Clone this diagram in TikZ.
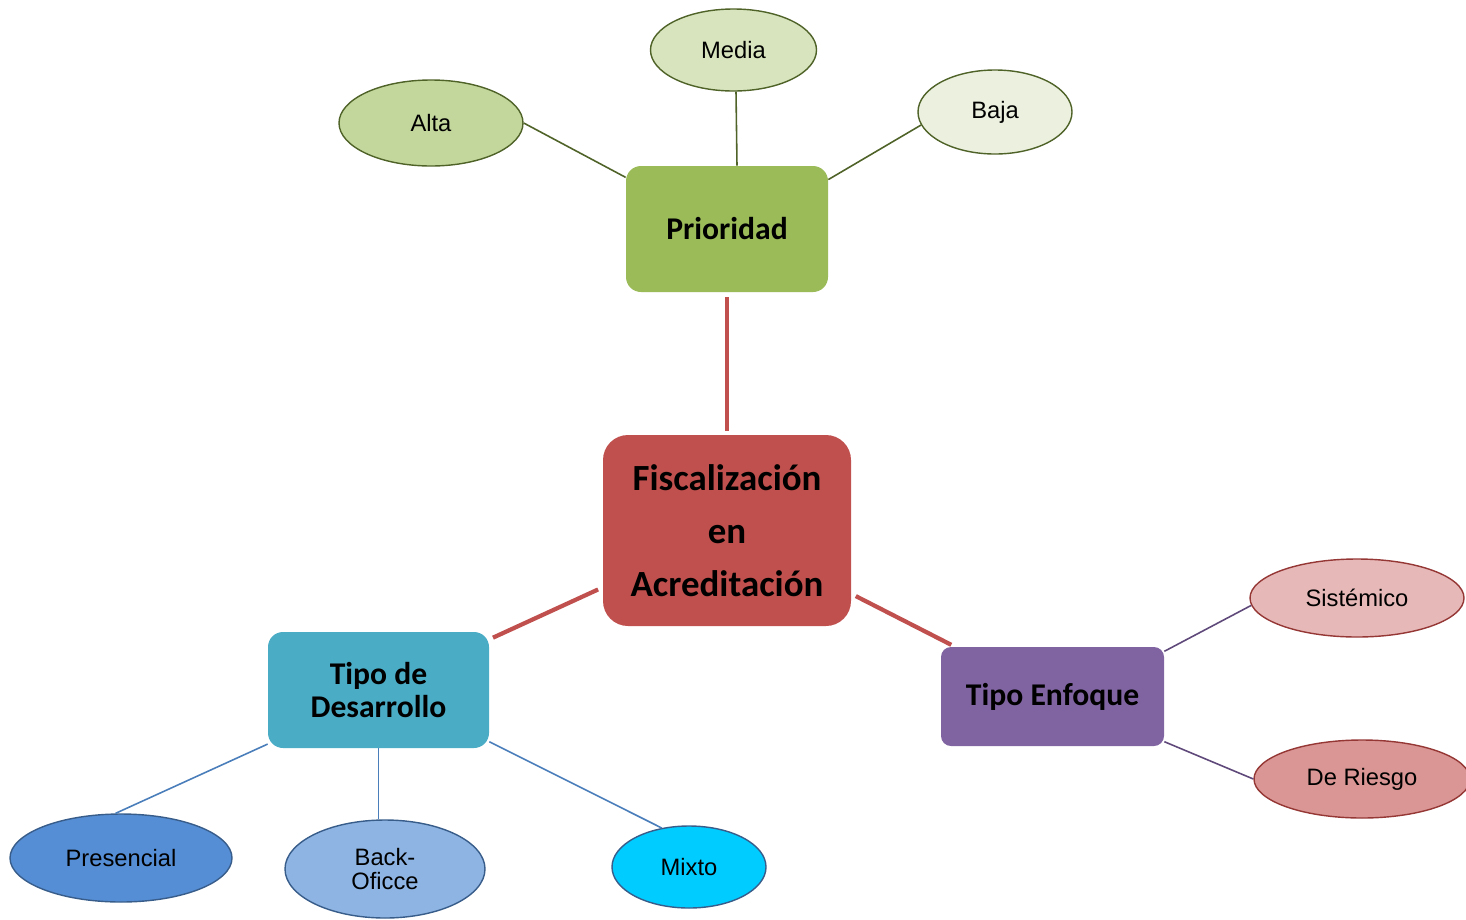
\documentclass[tikz,border=0pt]{standalone}
\usepackage{fontspec}
\setmainfont{Liberation Sans}
\newfontfamily\boxfont{Carlito}
\usetikzlibrary{shapes.geometric}
\usetikzlibrary{positioning}

\definecolor{rojo}{HTML}{C0504D}
\definecolor{verde}{HTML}{9BBB59}
\definecolor{turquesa}{HTML}{4BACC6}
\definecolor{morado}{HTML}{8064A2}
\definecolor{oliva}{HTML}{4F6228}
\definecolor{azulln}{HTML}{4A7EBB}
\definecolor{moradoln}{HTML}{5F497A}
\definecolor{granate}{HTML}{953735}
\definecolor{azulbd}{HTML}{385D8A}

\begin{document}
\begin{tikzpicture}
\useasboundingbox (0,0) rectangle (29.32,-18.38);

\begin{scope}[every node/.style={rectangle,inner sep=0pt,align=center,text=black,
              font=\boxfont\bfseries\fontsize{18}{19}\selectfont}]
    \node[fill=rojo,minimum width=4.96cm,minimum height=3.82cm,rounded corners=0.5cm,
          font=\boxfont\bfseries\fontsize{21}{30}\selectfont]
          (fisc) at (14.54,-10.61) {Fiscalización\\en\\Acreditación};
    \node[fill=verde,minimum width=4.04cm,minimum height=2.52cm,rounded corners=0.3cm]
          (prio) at (14.54,-4.58)  {Prioridad};
    \node[fill=turquesa,minimum width=4.42cm,minimum height=2.32cm,rounded corners=0.3cm]
          (desa) at (7.57,-13.8)   {Tipo de\\Desarrollo};
    \node[fill=morado,minimum width=4.46cm,minimum height=1.98cm,rounded corners=0.2cm]
          (enf)  at (21.05,-13.93) {Tipo Enfoque};
\end{scope}

\begin{scope}[every node/.style={ellipse,draw,line width=0.8pt,inner sep=0pt,align=center,
              font=\fontsize{13.5}{14.2}\selectfont}]
    \node[draw=oliva,fill={rgb,255:red,195;green,214;blue,155},minimum width=3.68cm,minimum height=1.72cm]
          (alta)   at (8.62,-2.46)   {Alta};
    \node[draw=oliva,fill={rgb,255:red,215;green,228;blue,189},minimum width=3.32cm,minimum height=1.64cm]
          (media)  at (14.67,-1.0)   {Media};
    \node[draw=oliva,fill={rgb,255:red,235;green,241;blue,222},minimum width=3.08cm,minimum height=1.68cm]
          (baja)   at (19.9,-2.24)   {Baja};
    \node[draw=granate,fill={rgb,255:red,230;green,185;blue,184},minimum width=4.28cm,minimum height=1.56cm]
          (sist)   at (27.14,-11.96) {Sistémico};
    \node[draw=granate,fill={rgb,255:red,217;green,150;blue,148},minimum width=4.32cm,minimum height=1.56cm]
          (riesgo) at (27.24,-15.58) {De Riesgo};
    \node[draw=azulbd,fill={rgb,255:red,85;green,142;blue,213},minimum width=4.44cm,minimum height=1.76cm]
          (pres)   at (2.42,-17.16)  {Presencial};
    \node[draw=azulbd,fill={rgb,255:red,142;green,180;blue,227},minimum width=4.0cm,minimum height=1.96cm]
          (back)   at (7.7,-17.38)   {Back-\\Oficce};
    \node[draw=azulbd,fill={rgb,255:red,0;green,204;blue,255},minimum width=3.08cm,minimum height=1.64cm]
          (mixto)  at (13.78,-17.34) {Mixto};
\end{scope}

% ramas principales
\begin{scope}[every edge/.style={draw=rojo,line width=2.4pt,shorten <=0.1cm,shorten >=0.08cm}]
    \path (prio) edge (fisc);
    \path (fisc) edge (desa);
    \path (fisc) edge (enf);
\end{scope}

% ramas secundarias
\begin{scope}[every edge/.style={draw,line width=0.9pt}]
    \path (alta.east)    edge[oliva] (prio.153);
    \path ([xshift=0.05cm]media.south) edge[oliva] ([xshift=0.2cm]prio.north);
    \path (baja.190)     edge[oliva] (prio.26);
    \path (desa.206)     edge[azulln] (pres.97);
    \path (desa.south)   edge[azulln] (desa.south |- back.north);
    \path (desa.-25)     edge[azulln] (mixto.125);
    \path (enf.22)       edge[moradoln] (sist.184);
    \path (enf.-22)      edge[moradoln] (riesgo.west);
\end{scope}
\end{tikzpicture}
\end{document}
